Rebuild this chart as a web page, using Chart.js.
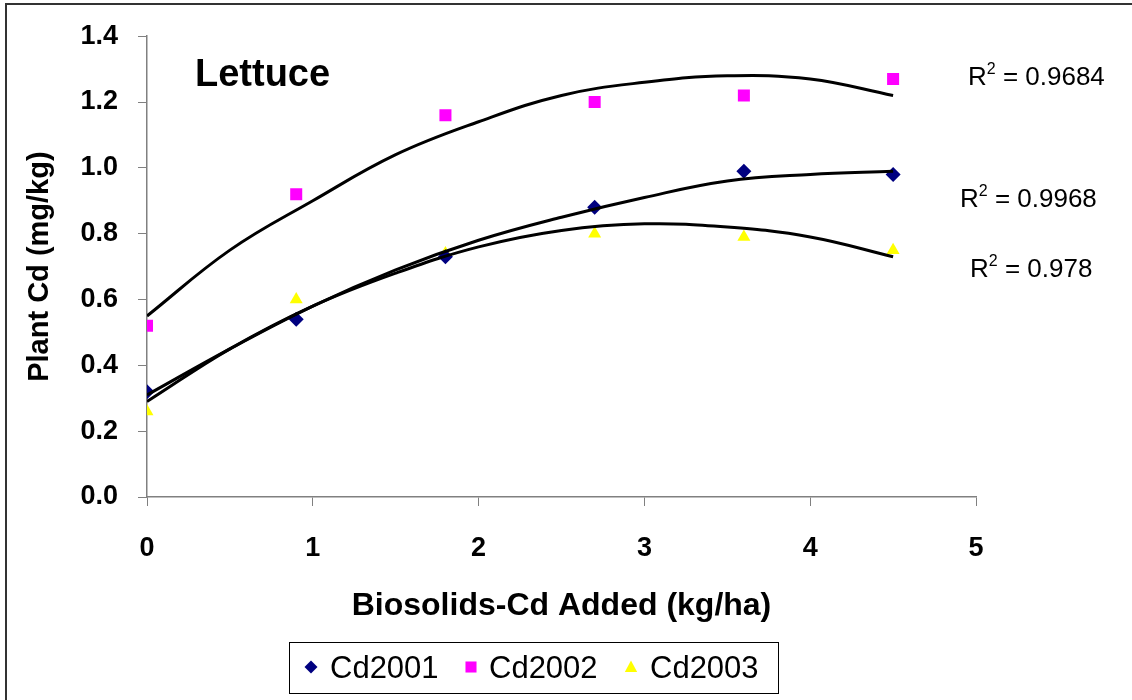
<!DOCTYPE html>
<html>
<head>
<meta charset="utf-8">
<script src="https://cdn.jsdelivr.net/npm/chart.js@4"></script>
<style>
  html, body { margin: 0; padding: 0; background: #fff; }
  #wrap { width: 1132px; height: 700px; }
</style>
</head>
<body>
<div id="wrap"><canvas id="chart" width="1132" height="700"></canvas></div>
<script>
// measured points (Biosolids-Cd added, kg/ha)
const doseX = [0, 0.9, 1.8, 2.7, 3.6, 4.5];
const cd2001 = [0.32, 0.54, 0.73, 0.88, 0.99, 0.98];
const cd2002 = [0.52, 0.92, 1.16, 1.20, 1.22, 1.27];
const cd2003 = [0.26, 0.60, 0.74, 0.80, 0.79, 0.75];

// trend lines, every 0.5 kg/ha
const fitX = [0, 0.5, 1, 1.5, 2, 2.5, 3, 3.5, 4, 4.5];
const fit2001 = [0.31, 0.45, 0.58, 0.69, 0.78, 0.85, 0.91, 0.96, 0.98, 0.99];
const fit2002 = [0.55, 0.75, 0.90, 1.04, 1.14, 1.22, 1.26, 1.28, 1.27, 1.22];
const fit2003 = [0.29, 0.45, 0.58, 0.68, 0.76, 0.81, 0.83, 0.82, 0.79, 0.73];

const seriesNames = ['Cd2001', 'Cd2002', 'Cd2003'];
const seriesColors = ['#000080', '#FF00FF', '#FFFF00'];
const seriesShapes = ['rectRot', 'rect', 'triangle'];
const rSquared = ['0.9684', '0.9968', '0.978'];

const FONT = 'Arial, "Liberation Sans", sans-serif';

function pts(xs, ys) {
  return xs.map((x, i) => ({ x: x, y: ys[i] }));
}

const datasets = [
  { data: pts(fitX, fit2001) },
  { data: pts(fitX, fit2002) },
  { data: pts(fitX, fit2003) }
].map(d => Object.assign(d, {
  type: 'line', borderColor: '#000', borderWidth: 3, pointRadius: 0,
  tension: 0.4, fill: false, order: 0
}));

[cd2001, cd2002, cd2003].forEach((ys, i) => {
  datasets.push({
    label: seriesNames[i],
    data: pts(doseX, ys),
    showLine: false,
    pointStyle: seriesShapes[i],
    pointRadius: i === 1 ? 8.5 : 7.5,
    backgroundColor: seriesColors[i],
    borderColor: seriesColors[i],
    borderWidth: 0,
    order: 1
  });
});

function marker(ctx, shape, x, y, s, color) {
  ctx.fillStyle = color;
  ctx.beginPath();
  if (shape === 'rectRot') {
    ctx.moveTo(x - s, y); ctx.lineTo(x, y - s); ctx.lineTo(x + s, y); ctx.lineTo(x, y + s);
  } else if (shape === 'rect') {
    ctx.rect(x - s * 0.85, y - s * 0.85, s * 1.7, s * 1.7);
  } else {
    ctx.moveTo(x, y - s); ctx.lineTo(x + s * 0.95, y + s * 0.75); ctx.lineTo(x - s * 0.95, y + s * 0.75);
  }
  ctx.closePath();
  ctx.fill();
}

const extras = {
  id: 'extras',
  afterDraw(chart) {
    const ctx = chart.ctx;
    ctx.save();
    // outer frame
    ctx.strokeStyle = '#333';
    ctx.lineWidth = 2;
    ctx.beginPath();
    ctx.moveTo(6, 700); ctx.lineTo(6, 4); ctx.lineTo(1132, 4);
    ctx.stroke();

    // panel title
    ctx.fillStyle = '#000';
    ctx.textBaseline = 'alphabetic';
    ctx.textAlign = 'left';
    ctx.font = 'bold 38px ' + FONT;
    ctx.fillText('Lettuce', 195, 86);

    // R² labels
    const rPos = [[968, 85], [960, 207], [970, 277]];
    rSquared.forEach((r, i) => {
      let [x, y] = rPos[i];
      ctx.font = '26px ' + FONT;
      ctx.fillText('R', x, y);
      x += ctx.measureText('R').width;
      ctx.font = '16px ' + FONT;
      ctx.fillText('2', x, y - 11);
      x += ctx.measureText('2').width;
      ctx.font = '26px ' + FONT;
      ctx.fillText(' = ' + r, x, y);
    });

    // legend
    ctx.strokeStyle = '#000';
    ctx.lineWidth = 1;
    ctx.strokeRect(289.5, 642.5, 489, 51);
    const mx = [311, 471, 631];
    const tx = [330, 489, 650];
    ctx.font = '31px ' + FONT;
    seriesNames.forEach((n, i) => {
      marker(ctx, seriesShapes[i], mx[i], 667, 6.5, seriesColors[i]);
      ctx.fillStyle = '#000';
      ctx.fillText(n, tx[i], 678);
    });
    ctx.restore();
  }
};

new Chart(document.getElementById('chart'), {
  type: 'scatter',
  data: { datasets: datasets },
  options: {
    responsive: false,
    animation: false,
    layout: { padding: { left: 23, right: 156, top: 35, bottom: 75 } },
    plugins: { legend: { display: false }, tooltip: { enabled: false } },
    scales: {
      x: {
        type: 'linear', min: 0, max: 5,
        afterFit(scale) { scale.height = 128; },
        ticks: { stepSize: 1, padding: 26, color: '#000', font: { family: FONT, size: 27, weight: 'bold' } },
        grid: { drawOnChartArea: false, tickLength: 9, color: '#808080' },
        border: { color: '#808080', width: 1.5 },
        title: { display: true, text: 'Biosolids-Cd Added (kg/ha)', color: '#000', padding: 0,
                 font: { family: FONT, size: 32, weight: 'bold' } }
      },
      y: {
        min: 0, max: 1.4,
        afterFit(scale) { scale.width = 124; },
        ticks: { stepSize: 0.2, padding: 20, color: '#000', callback: v => v.toFixed(1),
                 font: { family: FONT, size: 27, weight: 'bold' } },
        grid: { drawOnChartArea: false, tickLength: 9, color: '#808080' },
        border: { color: '#808080', width: 1.5 },
        title: { display: true, text: 'Plant Cd (mg/kg)', color: '#000', padding: 0,
                 font: { family: FONT, size: 29, weight: 'bold' } }
      }
    }
  },
  plugins: [extras]
});
</script>
</body>
</html>
